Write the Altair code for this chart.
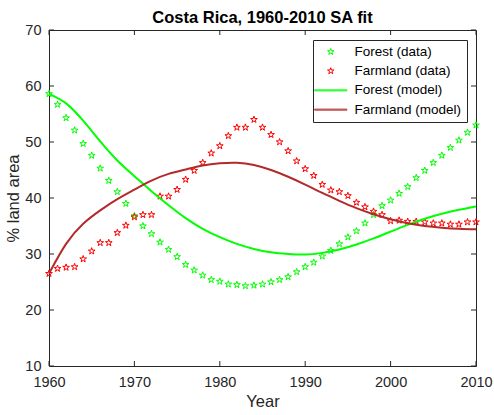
import math
import altair as alt
import pandas as pd

# ---------------- data ----------------
years = list(range(1960, 2011))
forest_data = [58.6, 56.7, 54.3, 52.1, 49.7, 47.6, 45.3, 43.1, 41.1, 39.0,
               36.8, 35.0, 33.6, 32.1, 30.8, 29.5, 28.1, 27.1, 26.2, 25.4,
               25.1, 24.6, 24.5, 24.3, 24.4, 24.6, 25.0, 25.4, 25.9, 26.8,
               27.7, 28.5, 29.6, 30.6, 31.8, 33.0, 34.1, 35.5, 37.0, 38.6,
               39.6, 40.8, 42.0, 43.6, 44.9, 46.3, 47.6, 49.0, 50.3, 51.7,
               53.0]
farmland_data = [26.5, 27.4, 27.6, 27.7, 29.1, 30.5, 32.0, 32.0, 33.8, 35.1,
                 36.6, 37.0, 37.0, 40.3, 40.3, 41.5, 43.3, 44.9, 46.3, 48.0,
                 49.3, 51.1, 52.6, 52.6, 54.0, 52.6, 51.3, 50.0, 48.4, 46.6,
                 45.2, 44.0, 42.4, 41.4, 41.1, 40.4, 39.2, 38.4, 37.6, 37.0,
                 35.9, 36.0, 35.8, 35.8, 35.7, 35.5, 35.5, 35.3, 35.3, 35.7,
                 35.7]
model_years = list(range(1960, 2011, 2))
forest_model = [58.6, 56.9, 53.8, 50.1, 46.7, 43.9, 41.2, 38.7, 36.4, 34.5,
                33.0, 31.8, 30.9, 30.3, 30.0, 29.9, 30.2, 30.8, 31.7, 32.8,
                34.0, 35.2, 36.3, 37.2, 37.9, 38.5]
farmland_model = [26.5, 31.8, 35.4, 37.8, 39.8, 41.5, 43.1, 44.3, 45.1, 45.8,
                  46.2, 46.3, 45.9, 45.0, 43.8, 42.4, 40.9, 39.5, 38.2, 37.1,
                  36.2, 35.5, 35.0, 34.7, 34.5, 34.4]

series_names = ["Forest (data)", "Farmland (data)", "Forest (model)", "Farmland (model)"]
series_colors = ["#00ff00", "#ff0000", "#00ff00", "#b22a2a"]
x_ticks = [1960, 1970, 1980, 1990, 2000, 2010]
y_ticks = [10, 20, 30, 40, 50, 60, 70]

# ---------------- tables ----------------
pts_df = pd.DataFrame({
    "year": years + years,
    "value": forest_data + farmland_data,
    "series": [series_names[0]] * len(years) + [series_names[1]] * len(years),
})
model_df = pd.DataFrame({
    "year": model_years + model_years,
    "value": forest_model + farmland_model,
    "series": [series_names[2]] * len(model_years) + [series_names[3]] * len(model_years),
})
xt_df = pd.DataFrame({"t": x_ticks})
yt_df = pd.DataFrame({"t": y_ticks})

# ---------------- marker shapes ----------------
pts = []
for i in range(10):
    r = 1.0 if i % 2 == 0 else 0.382
    a = -math.pi / 2 + i * math.pi / 5
    pts.append(f"{r * math.cos(a):.3f},{r * math.sin(a):.3f}")
star = "M" + "L".join(pts) + "Z"
hline = "M-4.8,-0.15L4.8,-0.15L4.8,0.15L-4.8,0.15Z"

FONT = "Liberation Sans"
AX = "#262626"
W, H = 427, 336
TICK = 5

x_scale = alt.Scale(domain=[1960, 2010], nice=False, zero=False)
y_scale = alt.Scale(domain=[10, 70], nice=False, zero=False)
color_scale = alt.Scale(domain=series_names, range=series_colors)
shape_scale = alt.Scale(domain=series_names, range=[star, star, hline, hline])

legend = alt.Legend(
    title=None, orient="none", legendX=264, legendY=10,
    strokeColor=AX, fillColor="white", padding=5, cornerRadius=0,
    symbolOffset=6, symbolSize=45, symbolStrokeWidth=1,
    symbolFillColor="transparent",
    labelOffset=17, labelFont=FONT, labelFontSize=13.5, labelColor="black",
    rowPadding=4.3,
)

main_x = alt.Axis(orient="bottom", values=x_ticks, format="d", ticks=False, tickSize=0,
                  domain=False, grid=False, labelPadding=9, title="Year",
                  titlePadding=5, labelFlush=False)
main_y = alt.Axis(orient="left", values=y_ticks, ticks=False, tickSize=0, domain=False,
                  grid=False, labelPadding=8, title="% land area", titlePadding=3)

points = alt.Chart(pts_df).mark_point(filled=False, strokeWidth=1, size=50, opacity=1).encode(
    x=alt.X("year:Q", scale=x_scale, axis=main_x),
    y=alt.Y("value:Q", scale=y_scale, axis=main_y),
    color=alt.Color("series:N", scale=color_scale, legend=legend),
    shape=alt.Shape("series:N", scale=shape_scale, legend=legend),
)

lines = alt.Chart(model_df).mark_line(strokeWidth=2, interpolate="natural").encode(
    x=alt.X("year:Q", scale=x_scale),
    y=alt.Y("value:Q", scale=y_scale),
    color=alt.Color("series:N", scale=color_scale, legend=None),
    detail="series:N",
)

# inward-pointing ticks on all four sides (MATLAB box style)
tick_rule = dict(color=AX, strokeWidth=1, opacity=1)
ticks_bottom = alt.Chart(xt_df).mark_rule(**tick_rule).encode(
    x=alt.X("t:Q", scale=x_scale), y=alt.value(H), y2=alt.value(H - TICK))
ticks_top = alt.Chart(xt_df).mark_rule(**tick_rule).encode(
    x=alt.X("t:Q", scale=x_scale), y=alt.value(0), y2=alt.value(TICK))
ticks_left = alt.Chart(yt_df).mark_rule(**tick_rule).encode(
    y=alt.Y("t:Q", scale=y_scale), x=alt.value(0), x2=alt.value(TICK))
ticks_right = alt.Chart(yt_df).mark_rule(**tick_rule).encode(
    y=alt.Y("t:Q", scale=y_scale), x=alt.value(W), x2=alt.value(W - TICK))

chart = alt.layer(
    points, lines, ticks_bottom, ticks_top, ticks_left, ticks_right
).properties(
    width=W, height=H,
    autosize=alt.AutoSizeParams(type="none"),
    padding={"left": 49, "top": 30, "right": 18, "bottom": 49},
    title=alt.TitleParams("Costa Rica, 1960-2010 SA fit", font=FONT, fontSize=16.5,
                          fontWeight="bold", color="black", offset=7, dy=11,
                          anchor="middle", frame="group"),
).configure(
    background="white",
).configure_view(
    stroke=AX, strokeWidth=1,
).configure_axis(
    labelFont=FONT, labelFontSize=14.5, labelColor=AX,
    titleFont=FONT, titleFontSize=16.5, titleColor=AX, titleFontWeight="normal",
)

chart.save("out.html", embed_options={"renderer": "svg", "actions": False})
